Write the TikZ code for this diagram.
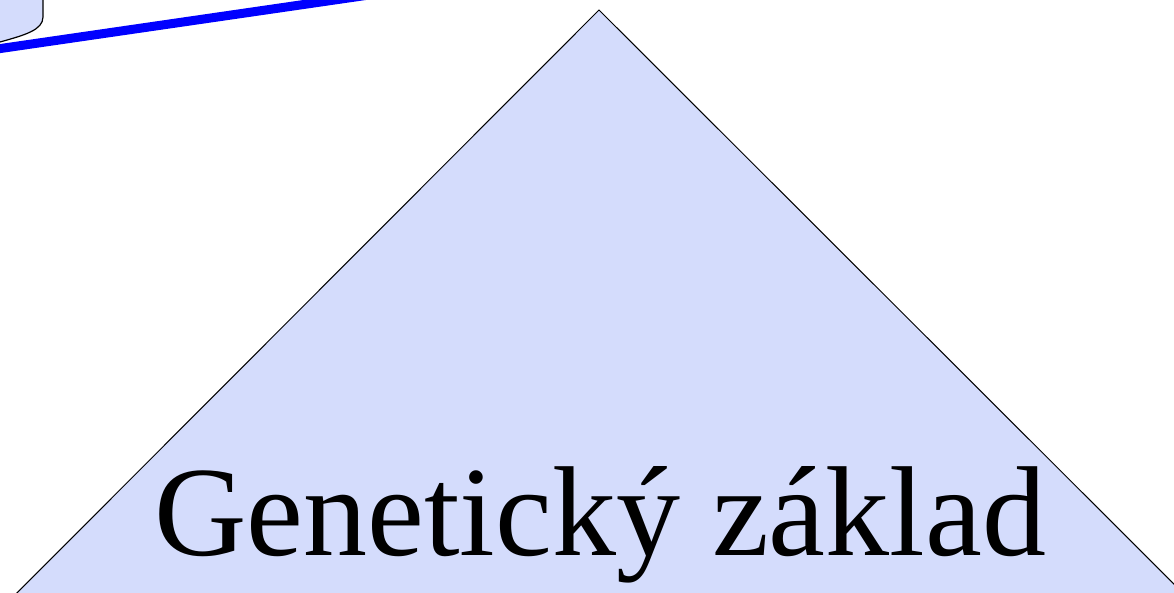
\documentclass[tikz,border=0pt]{standalone}
\usepackage{fontspec}
\setmainfont{Liberation Serif}
\definecolor{fillblue}{RGB}{212,220,252}
\begin{document}
\begin{tikzpicture}[x=1pt,y=-1pt,
  shapefill/.style={fill=fillblue,draw=black,line width=1.2pt},
  bluebar/.style={draw={rgb,255:red,0;green,0;blue,255},line width=9pt},
  bigtext/.style={font=\fontsize{128}{140}\selectfont,anchor=base,inner sep=0pt}]
\useasboundingbox (0,0) rectangle (1174,593);
\begin{scope}
\clip (0,0) rectangle (1174,593);
\coordinate (apex) at (599,10);
\coordinate (bl) at (-20,630);
\coordinate (br) at (1220,630);
\filldraw[shapefill,line width=1pt] (bl) -- (apex) -- (br) -- cycle;
\draw[shapefill] (-30,-20) -- (43,-20) -- (43,17) .. controls (43,30) and (25,35) .. (0,42) -- (-30,50) -- cycle;
\coordinate (barA) at (-20,51.5);
\coordinate (barB) at (400,-9.5);
\draw[bluebar] (barA) -- (barB);
\end{scope}
\node[bigtext] (title) at (600,555) {Genetický základ};
\end{tikzpicture}
\end{document}
